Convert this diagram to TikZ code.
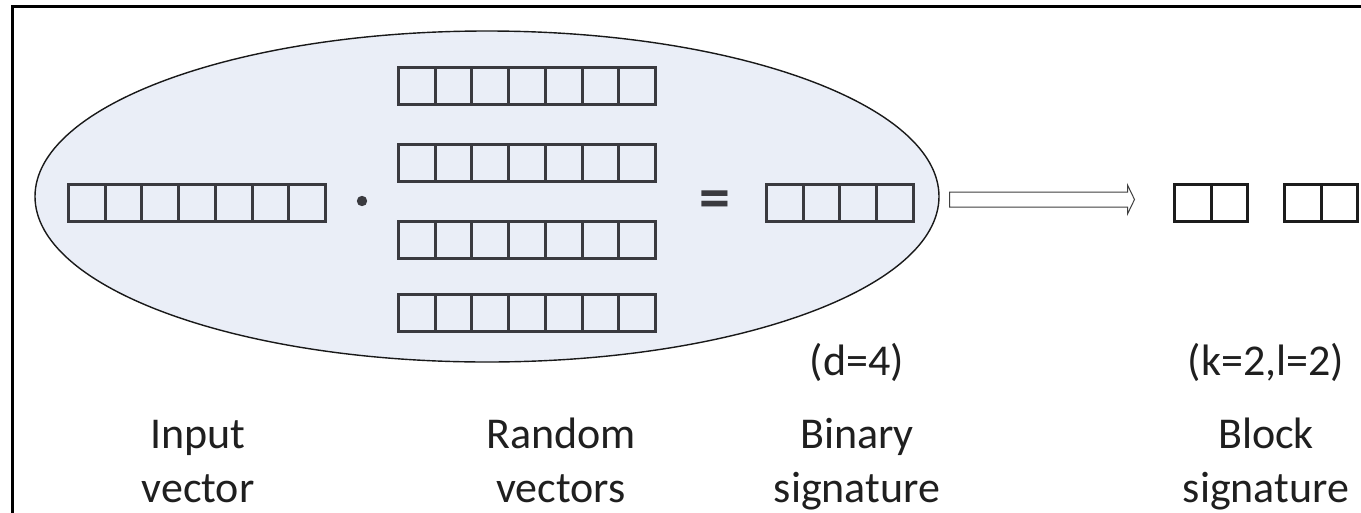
\documentclass[tikz,border=0pt]{standalone}
\usepackage{fontspec}
\setmainfont{Carlito}
\usetikzlibrary{shapes.geometric,calc}
\definecolor{boxgray}{HTML}{3A3A3F}
\definecolor{blockblk}{HTML}{1C1C1C}
\definecolor{ellfill}{HTML}{EAEEF7}
\tikzset{
  cellbox/.style={draw=boxgray, line width=3pt, minimum width=36.7pt, minimum height=37pt, inner sep=0pt, outer sep=0pt},
  blockcell/.style={draw=blockblk, line width=3pt, minimum width=36.5pt, minimum height=37pt, inner sep=0pt, outer sep=0pt},
  lbl/.style={font=\fontsize{44}{50}\selectfont, text=black!88, inner sep=0pt, anchor=base},
  hollowarrow/.style={draw=black!75, fill=white, line width=1pt},
}
\begin{document}
\begin{tikzpicture}[x=1pt,y=-1pt]
\useasboundingbox (0,0) rectangle (1361,512);
\fill[white] (0,0) rectangle (1361,512);
% frame (cropped)
\draw[line width=3pt, black] (12.5,520) -- (12.5,6.5) -- (1370,6.5);
% ellipse
\node[ellipse, draw=black!90, line width=1.4pt, fill=ellfill, minimum width=904pt, minimum height=331pt, inner sep=0pt] (ell) at (487,196.5) {};
% input vector
\foreach \i in {1,...,7} {
  \node[cellbox] (in-\i) at ({68.5+18.35+(\i-1)*36.7},203) {};
}
% random vectors
\foreach \r/\y in {1/86,2/163,3/240,4/313} {
  \foreach \i in {1,...,7} {
    \node[cellbox] (r\r-\i) at ({398.5+18.35+(\i-1)*36.7},\y) {};
  }
}
% binary signature
\foreach \i in {1,...,4} {
  \node[cellbox] (bs-\i) at ({766.5+18.35+(\i-1)*36.7},203) {};
}
% dot and equals
\fill[boxgray] (362,201) circle (5.2pt);
\node[font=\fontsize{62}{62}\selectfont\bfseries, text=boxgray, inner sep=0pt] (eq) at (715,205) {=};
% block signatures
\foreach \i in {1,2} {
  \node[blockcell] (bla-\i) at ({1174.5+18.25+(\i-1)*36.5},203) {};
  \node[blockcell] (blb-\i) at ({1284.5+18.25+(\i-1)*36.5},203) {};
}
% hollow arrow
\coordinate (as) at ($(ell.east)+(10,3)$);
\coordinate (ae) at ($(bla-1.west)+(-40,-3.5)$);
\draw[hollowarrow]
  ($(as)+(0,-7.5)$) -- ($(ae)+(-7,-7.5)$) -- ($(ae)+(-7,-14.5)$) -- (ae) -- ($(ae)+(-7,14.5)$) -- ($(ae)+(-7,7.5)$) -- ($(as)+(0,7.5)$) -- cycle;
% labels
\node[lbl] (t1) at (198,448) {Input};
\node[lbl] (t2) at (198,502) {vector};
\node[lbl] (t3) at (561,448) {Random};
\node[lbl] (t4) at (561,502) {vectors};
\node[lbl] (t5) at (857,375) {(d=4)};
\node[lbl] (t6) at (857,448) {Binary};
\node[lbl] (t7) at (857,502) {signature};
\node[lbl] (t8) at (1266,375) {(k=2,l=2)};
\node[lbl] (t9) at (1266,448) {Block};
\node[lbl] (t10) at (1266,502) {signature};
\end{tikzpicture}
\end{document}
